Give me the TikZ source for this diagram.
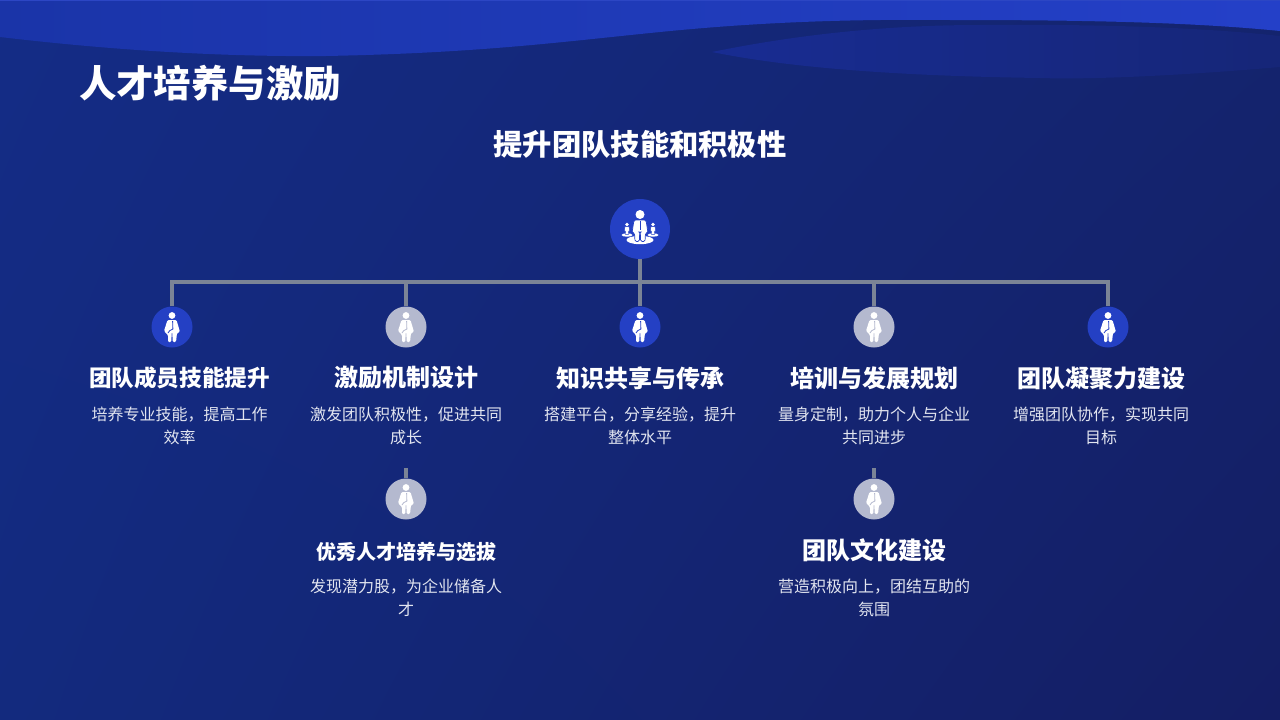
\documentclass[tikz,border=0pt]{standalone}
\usepackage{fontspec}
\setmainfont{Noto Sans CJK SC}
\usepackage{xcolor}
\usetikzlibrary{positioning,calc,shadings}
\definecolor{dotblue}{HTML}{2440C4}
\definecolor{dotgrey}{HTML}{B4B9CF}
\definecolor{linkgrey}{HTML}{7B8496}
\definecolor{bodywhite}{HTML}{E2E5F0}
\definecolor{bgUL}{RGB}{20,44,134}
\definecolor{bgUR}{RGB}{20,36,110}
\definecolor{bgLL}{RGB}{19,42,126}
\definecolor{bgLR}{RGB}{20,30,100}
\definecolor{waveL}{RGB}{26,52,168}
\definecolor{waveR}{RGB}{36,64,200}
\definecolor{lensL}{RGB}{24,44,146}
\definecolor{lensR}{RGB}{22,38,120}
\definecolor{topstrip}{RGB}{44,70,196}

\begin{document}
\begin{tikzpicture}[
    x=1pt, y=-1pt,
    bluedot/.style={circle, fill=dotblue, minimum size=41pt, inner sep=0pt},
    greydot/.style={circle, fill=dotgrey, minimum size=41pt, inner sep=0pt},
    hubdot/.style={circle, fill=dotblue, minimum size=60pt, inner sep=0pt},
    link/.style={draw=linkgrey, line width=3.2pt},
    headline/.style={text=white, inner sep=0pt, align=center, font=\fontsize{24}{28}\selectfont\bfseries},
    bodytext/.style={text=bodywhite, inner sep=0pt, align=center, below=17pt of #1, font=\fontsize{16}{23}\selectfont},
    pics/smallman/.style={code={
        \fill[white] (0,-11.5) circle (3.4);
        \fill[white, rounded corners=1.2pt] (-4.5,-7) -- (4.5,-7) -- (8,5) -- (5,6) -- (4,15) -- (0.7,15) -- (0.3,5) -- (-0.3,5) -- (-0.7,15) -- (-4,15) -- (-4,8) -- (-8,4) -- cycle;
        \draw[#1, line width=0.8pt] (0.6,-6) -- (0.9,2) .. controls (-1.5,3) and (-3.5,4) .. (-4,6);
    }},
    pics/hubman/.style={code={
        \fill[white] (0,11) ellipse (13.5 and 4.2);
        \fill[white] (0,-14.5) circle (4.5);
        \filldraw[white, draw=dotblue, line width=0.7pt, rounded corners=1.5pt] (-6,-9) -- (6,-9) -- (8,4) -- (5.5,4) -- (5,12.5) -- (0.6,12.5) -- (0.3,3) -- (-0.3,3) -- (-0.6,12.5) -- (-5,12.5) -- (-5.5,4) -- (-8,4) -- cycle;
        \draw[dotblue, line width=1pt] (0,-8.5) -- (0,1);
    }},
    pics/sideman/.style={code={
        \fill[white] (0,6) ellipse (5.5 and 1.7);
        \fill[white] (0,-4.5) circle (1.8);
        \filldraw[white, draw=dotblue, line width=0.3pt] (-2,-2.4) -- (2,-2.4) -- (2.5,2) -- (1.5,2) -- (1.4,5.6) -- (-1.4,5.6) -- (-1.5,2) -- (-2.5,2) -- cycle;
    }}
]
    \useasboundingbox (0,0) rectangle (1280,720);

    % Background and waves
    \shade[upper left=bgUL, upper right=bgUR, lower left=bgLL, lower right=bgLR]
        (0,0) rectangle (1280,720);
    \shade[left color=waveL, right color=waveR]
        (0,0) -- (0,37) .. controls (110,50) and (220,57) .. (326,56)
        .. controls (480,53) and (560,42) .. (660,32)
        .. controls (760,22) and (850,19) .. (950,20)
        .. controls (1080,20) and (1190,22) .. (1280,31) -- (1280,0) -- cycle;
    \shade[left color=lensL, right color=lensR]
        (712,52) .. controls (790,36) and (880,25) .. (980,25)
        .. controls (1090,24) and (1200,27) .. (1280,36) -- (1280,67)
        .. controls (1200,74) and (1100,80) .. (1040,78)
        .. controls (900,76) and (790,68) .. (712,52) -- cycle;
    \fill[topstrip] (0,0) rectangle (1280,1);

    % Titles
    \node[text=white, inner sep=0pt, font=\fontsize{37.4}{40}\selectfont\bfseries] (title) at (210,83) {人才培养与激励};
    \node[text=white, inner sep=0pt, font=\fontsize{29.3}{34}\selectfont\bfseries] (subtitle) at (640,144) {提升团队技能和积极性};

    % Top level
    \node[hubdot] (hub) at (640,229) {};
    \pic at ($(hub)+(-13,0)$) {sideman};
    \pic at ($(hub)+(13,0)$) {sideman};
    \pic at (hub) {hubman};

    % Second level
    \node[bluedot] (dot1) at (172,327) {};
    \node[greydot] (dot2) at (406,327) {};
    \node[bluedot] (dot3) at (640,327) {};
    \node[greydot] (dot4) at (874,327) {};
    \node[bluedot] (dot5) at (1108,327) {};
    \pic at (dot1) {smallman=dotblue};
    \pic at (dot2) {smallman=dotgrey};
    \pic at (dot3) {smallman=dotblue};
    \pic at (dot4) {smallman=dotgrey};
    \pic at (dot5) {smallman=dotblue};

    % Third level
    \node[greydot] (dot6) at (406,499) {};
    \node[greydot] (dot7) at (874,499) {};
    \pic at (dot6) {smallman=dotgrey};
    \pic at (dot7) {smallman=dotgrey};

    % Connectors
    \coordinate (busL) at (172,282);
    \coordinate (busR) at (1108,282);
    \coordinate (stub6) at (406,468);
    \coordinate (stub7) at (874,468);
    \draw[link] (dot1.north) -- (busL) -- (busR) -- (dot5.north);
    \draw[link] (hub.south) -- (dot3.north);
    \draw[link] (dot2.north) -- (dot2 |- busL);
    \draw[link] (dot4.north) -- (dot4 |- busL);
    \draw[link] (stub6) -- (dot6.north);
    \draw[link] (stub7) -- (dot7.north);

    % Labels
    \node[headline, font=\fontsize{22.6}{28}\selectfont\bfseries] (head1) at (179.5,378) {团队成员技能提升};
    \node[bodytext=head1] (text1) {培养专业技能，提高工作\\效率};
    \node[headline] (head2) at (406,378) {激励机制设计};
    \node[bodytext=head2] (text2) {激发团队积极性，促进共同\\成长};
    \node[headline] (head3) at (640,378) {知识共享与传承};
    \node[bodytext=head3] (text3) {搭建平台，分享经验，提升\\整体水平};
    \node[headline] (head4) at (874,378) {培训与发展规划};
    \node[bodytext=head4] (text4) {量身定制，助力个人与企业\\共同进步};
    \node[headline] (head5) at (1101,378) {团队凝聚力建设};
    \node[bodytext=head5] (text5) {增强团队协作，实现共同\\目标};
    \node[headline, font=\fontsize{20}{24}\selectfont\bfseries] (head6) at (406,552) {优秀人才培养与选拔};
    \node[bodytext=head6] (text6) {发现潜力股，为企业储备人\\才};
    \node[headline] (head7) at (874,550) {团队文化建设};
    \node[bodytext=head7] (text7) {营造积极向上，团结互助的\\氛围};

\end{tikzpicture}
\end{document}
